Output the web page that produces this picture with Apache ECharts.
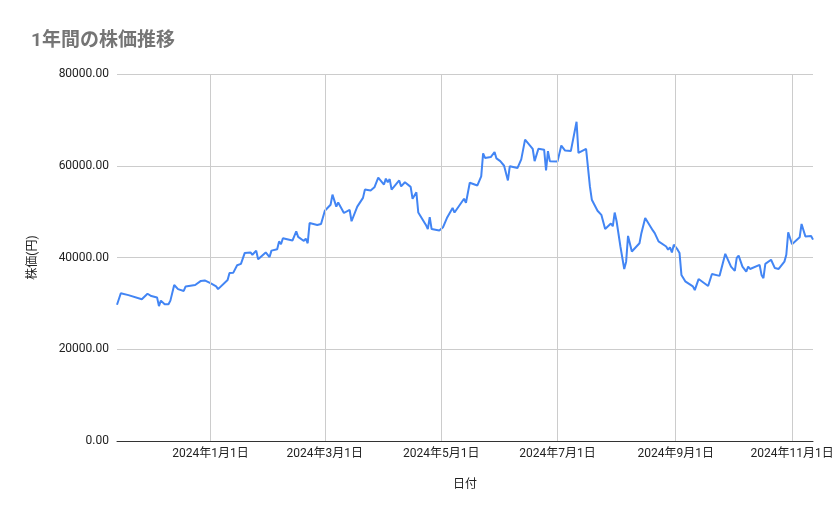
<!DOCTYPE html>
<html>
<head>
<meta charset="utf-8">
<script src="https://cdn.jsdelivr.net/npm/echarts@6/dist/echarts.min.js"></script>
<style>
  html, body { margin: 0; padding: 0; background: #fff; }
  #chartBox { width: 839px; height: 519px; }
</style>
</head>
<body>
<div id="chartBox"></div>
<script>
// 日付と株価
var dates = [
	'2023-11-13','2023-11-15','2023-11-19','2023-11-20','2023-11-26','2023-11-27','2023-11-29','2023-12-01',
	'2023-12-04','2023-12-05','2023-12-06','2023-12-08','2023-12-10','2023-12-11','2023-12-13','2023-12-15',
	'2023-12-18','2023-12-19','2023-12-20','2023-12-24','2023-12-27','2023-12-29','2024-01-01','2024-01-04',
	'2024-01-05','2024-01-10','2024-01-11','2024-01-13','2024-01-15','2024-01-17','2024-01-19','2024-01-22',
	'2024-01-23','2024-01-25','2024-01-26','2024-01-30','2024-02-01','2024-02-02','2024-02-05','2024-02-06',
	'2024-02-07','2024-02-08','2024-02-13','2024-02-15','2024-02-16','2024-02-19','2024-02-20','2024-02-21',
	'2024-02-22','2024-02-26','2024-02-28','2024-03-01','2024-03-04','2024-03-05','2024-03-07','2024-03-08',
	'2024-03-11','2024-03-14','2024-03-15','2024-03-18','2024-03-21','2024-03-22','2024-03-25','2024-03-27',
	'2024-03-28','2024-03-29','2024-04-01','2024-04-02','2024-04-03','2024-04-04','2024-04-05','2024-04-09',
	'2024-04-10','2024-04-12','2024-04-15','2024-04-16','2024-04-18','2024-04-19','2024-04-23','2024-04-24',
	'2024-04-25','2024-04-26','2024-04-30','2024-05-02','2024-05-04','2024-05-07','2024-05-08','2024-05-10',
	'2024-05-11','2024-05-13','2024-05-14','2024-05-16','2024-05-20','2024-05-22','2024-05-23','2024-05-24',
	'2024-05-27','2024-05-29','2024-05-30','2024-06-01','2024-06-03','2024-06-05','2024-06-06','2024-06-10',
	'2024-06-12','2024-06-14','2024-06-18','2024-06-19','2024-06-21','2024-06-24','2024-06-25','2024-06-26',
	'2024-06-27','2024-07-01','2024-07-03','2024-07-04','2024-07-05','2024-07-08','2024-07-11','2024-07-12',
	'2024-07-16','2024-07-18','2024-07-19','2024-07-22','2024-07-24','2024-07-26','2024-07-29','2024-07-30',
	'2024-07-31','2024-08-01','2024-08-03','2024-08-05','2024-08-06','2024-08-07','2024-08-09','2024-08-13',
	'2024-08-14','2024-08-16','2024-08-20','2024-08-21','2024-08-23','2024-08-27','2024-08-28','2024-08-29',
	'2024-08-30','2024-08-31','2024-09-02','2024-09-03','2024-09-04','2024-09-06','2024-09-10','2024-09-11',
	'2024-09-13','2024-09-18','2024-09-20','2024-09-24','2024-09-25','2024-09-27','2024-09-30','2024-10-01',
	'2024-10-02','2024-10-03','2024-10-04','2024-10-06','2024-10-08','2024-10-09','2024-10-10','2024-10-15',
	'2024-10-16','2024-10-17','2024-10-18','2024-10-21','2024-10-22','2024-10-23','2024-10-25','2024-10-28',
	'2024-10-29','2024-10-30','2024-11-01','2024-11-05','2024-11-06','2024-11-08','2024-11-11','2024-11-12'
];
var prices = [
	29700,32200,31800,32100,30900,31100,32100,31600,
	31300,29400,30600,29800,29800,30600,34000,33100,
	32700,33700,33300,34000,34900,35000,34400,33700,
	33100,35100,36600,36700,38300,38600,41000,41100,
	40600,41500,39600,41100,40100,41500,41800,43500,
	42900,44200,43700,45700,44500,43600,44100,43100,
	47500,47100,47300,50200,51500,53700,51100,52000,
	49700,50400,47900,51100,53000,54800,54600,55300,
	55400,57400,55900,57200,56400,57100,54800,56800,
	55500,56400,55400,52800,54200,49800,47100,46200,
	48800,46200,45900,46600,48600,50800,49800,51000,
	51100,52800,51900,56300,55700,57700,62700,61700,
	61900,63000,61600,61000,60000,56800,59900,59500,
	61400,65700,63700,61000,63700,63500,59000,63200,
	61000,60900,64400,64800,63300,63200,69600,62800,
	63700,55500,52600,50200,49300,46200,47400,46800,
	49800,47900,42400,37500,39100,44700,41300,43100,
	45300,48600,45900,45300,43500,42400,41700,42200,
	41100,42800,41700,41000,36200,34800,33700,32900,
	35300,33800,36400,36000,35800,40800,38000,38400,
	37100,39900,40400,38000,36900,38000,37500,38400,
	36200,35500,38600,39500,39300,37700,37500,39100,
	40600,45500,42900,44400,47300,44600,44700,43900
];
// 目盛り (奇数月の1日)
var tickDates = ['2024-01-01','2024-03-01','2024-05-01','2024-07-01','2024-09-01','2024-11-01'];
var yTicks = [0, 20000, 40000, 60000, 80000];

window.addEventListener('load', function() {
	var myChart = echarts.init(document.getElementById('chartBox'));
	var fontFamily = 'Roboto, "Noto Sans CJK JP", sans-serif';
	function toTime(d) { return +new Date(d + 'T00:00:00'); }
	var tickTimes = tickDates.map(toTime);
	var seriesData = dates.map(function(d, i) { return [toTime(d), prices[i]]; });

	var option = {
		animation: false,
		title: {
			text: '1年間の株価推移',
			left: 26,
			top: 27,
			textStyle: {
				color: '#757575',
				fontSize: 19,
				fontWeight: 'bold',
				fontFamily: fontFamily
			}
		},
		grid: {
			left: 117,
			right: 26,
			top: 74,
			bottom: 78
		},
		xAxis: {
			type: 'value',
			min: seriesData[0][0],
			max: seriesData[seriesData.length - 1][0],
			name: '日付',
			nameLocation: 'middle',
			nameGap: 38,
			nameTextStyle: { color: '#222', fontSize: 12, fontFamily: fontFamily },
			axisLine: { onZero: false, lineStyle: { color: '#333', width: 1 } },
			axisTick: { show: false, customValues: tickTimes },
			axisLabel: {
				customValues: tickTimes,
				color: '#222',
				fontSize: 12,
				fontFamily: fontFamily,
				margin: 7,
				formatter: function(v) {
					var d = new Date(v);
					return d.getFullYear() + '年' + (d.getMonth() + 1) + '月' + d.getDate() + '日';
				}
			},
			splitLine: { show: false }
		},
		yAxis: {
			type: 'value',
			min: yTicks[0],
			max: yTicks[yTicks.length - 1],
			interval: yTicks[1] - yTicks[0],
			name: '株価(円)',
			nameLocation: 'middle',
			nameGap: 78,
			nameTextStyle: { color: '#222', fontSize: 12, fontFamily: fontFamily },
			axisLine: { show: false },
			axisTick: { show: false },
			axisLabel: {
				color: '#222',
				fontSize: 12,
				fontFamily: fontFamily,
				margin: 8,
				formatter: function(v) { return v.toFixed(2); }
			},
			splitLine: { lineStyle: { color: '#cccccc', width: 1 } }
		},
		series: [{
			name: '株価',
			type: 'line',
			data: seriesData,
			showSymbol: false,
			symbol: 'none',
			lineStyle: { color: '#4285f4', width: 2 },
			itemStyle: { color: '#4285f4' },
			markLine: {
				silent: true,
				symbol: 'none',
				label: { show: false },
				lineStyle: { color: '#cccccc', width: 1, type: 'solid' },
				data: tickTimes.map(function(t) { return { xAxis: t }; })
			},
			z: 3
		}]
	};
	myChart.setOption(option);
});
</script>
</body>
</html>
